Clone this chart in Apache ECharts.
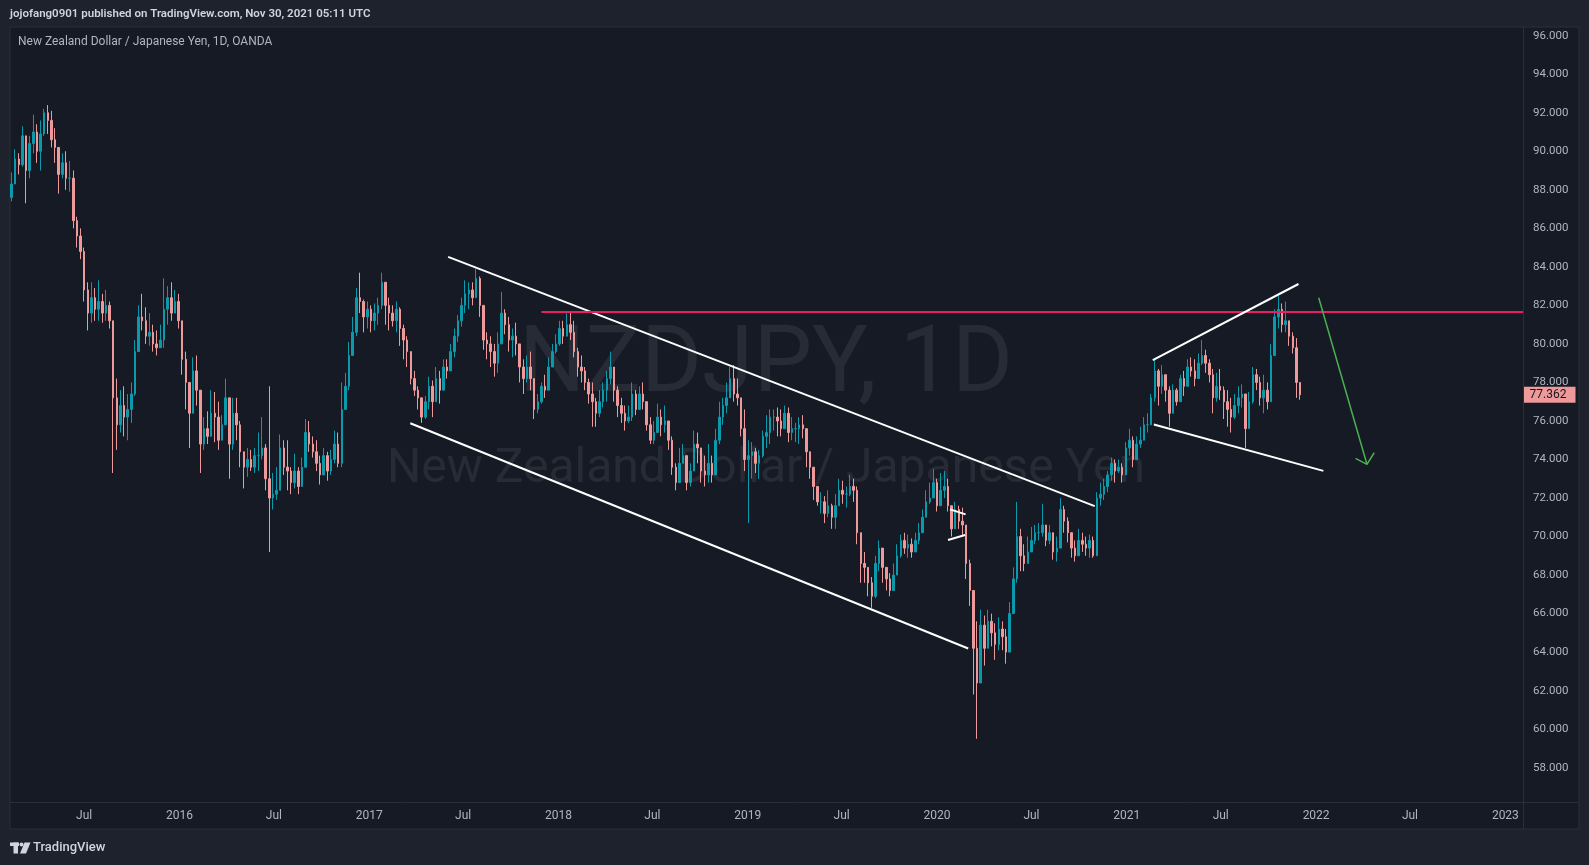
<!DOCTYPE html>
<html>
<head>
<meta charset="utf-8">
<script src="https://cdn.jsdelivr.net/npm/echarts@6/dist/echarts.min.js"></script>
<style>
html,body{margin:0;padding:0;background:#1e222d;}
#chart{width:1589px;height:865px;}
</style>
</head>
<body>
<div id="chart"></div>
<script>
// ---------- DATA (weekly candles: [close, high, low]) ----------
const firstMondays = ['2015-02-09','2016-01-04','2017-01-02','2018-01-01','2019-01-07','2020-01-06','2021-01-04'];
const firstOpen = 87.6;

const w2015 = [
  [88.3,88.9,87.4],[89.6,90.1,88.4],[89.3,89.9,88.8],
  [90.8,91.3,89.2],[89.0,90.8,87.3],[90.4,90.8,88.6],[91.0,91.9,89.9],[90.0,91.4,89.4],
  [90.9,91.6,89.0],[92.0,92.2,90.8],[91.6,92.4,90.9],[90.6,92.1,90.2],
  [90.2,91.2,89.4],[88.8,90.2,87.8],[89.4,89.9,88.6],[88.6,90.0,88.0],
  [88.6,89.5,87.9],[86.4,89.0,86.0],[85.6,86.6,85.0],[84.8,86.0,84.4],[82.8,85.0,82.2],
  [81.6,83.2,80.7],[82.4,83.2,81.1],[81.8,82.9,81.2],[82.2,83.3,81.2],
  [81.6,82.6,81.1],[82.0,82.8,81.2],[81.2,82.2,80.8],[77.2,81.0,73.3],[75.8,78.2,74.5],
  [76.8,77.6,75.4],[76.2,77.8,75.2],[76.6,77.4,75.0],[77.4,78.0,75.9],
  [79.6,80.2,77.3],[81.4,82.0,79.8],[81.2,82.6,80.7],[80.4,81.9,80.0],
  [80.6,81.6,79.9],[80.0,81.0,79.6],[79.8,80.7,79.4],[80.2,81.0,79.8],[81.8,83.4,79.8],
  [82.4,83.0,81.0],[81.6,83.2,81.2],[82.2,82.8,81.7],[81.2,82.6,80.8]
];
const w2016 = [
  [79.2,81.0,78.4],[78.0,79.6,76.6],[76.4,77.6,74.6],[78.6,79.3,76.6],
  [77.6,79.4,76.8],[74.8,77.2,73.3],[75.6,76.2,74.5],[75.2,76.5,74.8],[76.4,77.6,75.4],
  [76.2,77.5,74.9],[75.0,77.0,74.5],[75.8,76.3,75.0],[77.2,78.2,75.8],
  [74.8,76.2,73.0],[76.4,77.2,74.5],[75.8,77.2,75.0],[74.4,76.0,73.6],
  [73.6,74.2,72.5],[74.0,74.6,73.1],[73.6,74.5,73.4],[74.2,74.6,73.3],[74.2,75.4,73.4],
  [74.6,76.2,74.0],[73.0,74.8,72.4],[72.0,77.8,69.2],[72.2,73.3,71.4],
  [72.4,73.6,71.9],[74.6,75.3,72.4],[73.6,75.0,73.2],[73.4,75.0,72.4],
  [72.8,73.6,72.2],[73.4,74.3,72.5],[72.6,73.6,72.2],[73.6,74.1,72.7],[75.4,76.1,73.6],
  [74.8,76.0,74.4],[74.4,75.2,74.1],[73.8,75.0,73.4],[73.2,74.2,72.7],
  [74.2,74.6,73.3],[73.4,74.4,72.9],[74.0,74.5,73.2],[74.8,75.5,73.8],[73.8,75.4,73.6],
  [76.6,78.0,73.6],[77.8,78.5,76.6],[79.4,80.1,77.6],[80.6,81.4,79.4],
  [82.4,82.9,80.4],[82.2,83.7,81.6],[81.4,82.3,80.6],[81.8,82.2,80.8]
];
const w2017 = [
  [81.2,82.0,80.6],[81.6,82.1,80.7],[82.0,82.4,81.0],[83.2,83.7,81.8],[82.0,83.0,81.0],
  [81.6,82.4,80.7],[81.2,82.0,80.9],[81.8,82.2,80.6],[80.8,81.9,79.9],
  [80.2,81.0,79.2],[79.6,80.4,78.8],[78.2,79.2,77.9],[77.6,78.6,77.3],
  [77.2,77.8,76.6],[76.2,77.1,75.9],[77.0,77.3,76.1],[77.8,78.3,76.6],
  [77.0,78.1,76.2],[78.2,78.8,77.2],[77.6,78.6,76.9],[78.8,79.2,77.8],[78.6,79.2,78.2],
  [79.6,80.0,78.6],[80.4,80.8,79.3],[81.2,81.5,80.1],[82.0,82.4,80.9],
  [82.6,83.3,81.6],[82.8,83.2,81.8],[82.4,83.2,82.0],[83.4,83.9,82.4],[82.0,83.5,81.4],
  [80.2,81.8,79.7],[80.0,80.6,79.2],[79.6,80.4,78.8],[79.0,80.0,78.3],
  [80.0,80.6,78.5],[81.6,82.7,80.0],[81.0,81.8,80.5],[80.2,81.4,79.6],
  [80.4,80.8,79.3],[80.0,81.1,79.4],[78.8,80.0,78.0],[78.2,79.2,77.4],[78.8,79.4,78.0],
  [78.2,79.6,77.6],[76.6,77.6,76.1],[77.0,77.4,76.4],[77.8,78.0,76.9],
  [77.6,78.4,77.2],[78.8,79.3,77.8],[79.6,80.0,78.8],[80.0,80.5,79.5]
];
const w2018 = [
  [80.8,81.2,79.9],[80.4,81.2,80.0],[81.0,81.6,80.4],[80.6,81.6,80.2],[79.6,81.2,79.3],
  [78.8,79.8,78.3],[78.6,79.4,78.0],[78.0,78.8,77.6],[77.4,78.2,76.9],
  [77.0,78.0,75.7],[76.4,77.2,75.7],[77.0,77.6,76.2],[77.6,78.0,76.7],
  [78.2,78.6,77.0],[78.8,79.6,77.9],[77.6,78.6,77.0],[76.8,77.8,76.2],[76.4,77.2,75.9],
  [76.0,76.8,75.5],[76.2,76.8,75.9],[77.4,78.0,76.0],[76.6,77.6,76.3],
  [77.4,77.8,76.6],[77.0,78.0,76.6],[75.8,77.0,75.5],[75.0,76.2,74.8],
  [75.4,76.0,74.8],[76.2,76.9,75.5],[75.8,76.6,75.2],[76.0,76.8,75.4],[75.0,75.9,74.5],
  [73.6,75.2,73.2],[72.8,73.8,72.4],[73.8,74.6,73.1],[74.2,74.8,73.8],
  [72.8,74.0,72.4],[73.4,73.8,72.6],[74.8,75.5,73.8],[74.6,75.4,73.8],
  [73.4,74.6,72.8],[73.2,74.2,72.6],[73.8,74.8,72.8],[73.2,74.2,72.8],[75.0,75.6,73.4],
  [76.2,77.0,74.8],[76.8,77.2,75.8],[77.2,78.0,76.4],[78.2,78.8,77.2],
  [77.4,78.9,77.0],[77.2,78.2,76.8],[75.6,77.2,75.2],[74.0,76.6,73.4],[74.2,75.0,70.7]
];
const w2019 = [
  [74.4,74.9,73.0],[73.8,74.6,73.3],[74.2,74.5,73.0],[75.2,75.5,74.1],
  [75.4,76.3,74.6],[76.2,76.6,74.8],[76.2,76.6,75.5],[76.0,76.7,75.2],
  [75.6,76.6,75.2],[76.4,76.8,75.7],[75.4,76.7,74.9],[75.6,76.2,75.0],
  [75.6,75.9,74.9],[75.8,76.2,74.8],[75.6,76.3,75.1],[74.4,75.4,73.6],[73.6,74.3,73.0],
  [72.6,73.4,71.9],[71.8,72.6,71.6],[71.8,72.3,71.2],[71.2,72.1,70.7],
  [71.6,72.4,71.0],[71.0,71.7,70.4],[71.6,72.2,70.4],[72.4,73.0,71.6],
  [72.2,72.9,71.7],[72.2,72.6,71.5],[72.6,73.2,72.1],[72.4,73.0,71.8],[70.2,72.6,69.6],
  [68.6,70.0,67.6],[68.4,69.2,67.6],[67.6,68.4,66.9],[66.9,67.9,66.3],
  [68.6,69.0,66.8],[69.4,69.8,68.2],[68.4,69.3,67.6],[67.8,68.4,67.2],[67.2,68.1,66.9],
  [68.0,68.6,67.4],[69.0,69.6,68.2],[69.8,70.1,68.9],[69.4,70.2,69.1],
  [69.6,70.1,68.9],[69.2,69.9,68.9],[69.8,70.2,69.2],[70.2,70.7,69.6],
  [71.0,71.4,70.2],[71.8,72.4,71.2],[72.0,72.8,71.7],[72.8,73.5,72.2],[71.6,73.0,71.3]
];
const w2020 = [
  [72.4,73.3,71.7],[72.6,73.4,72.0],[71.6,73.0,71.3],[70.4,71.6,70.0],
  [71.4,71.8,70.6],[70.8,71.6,70.4],[70.6,71.5,70.0],[68.6,70.4,67.8],
  [67.2,68.8,66.4],[64.2,67.2,61.8],[62.4,65.6,59.5],[65.4,66.2,63.2],[64.2,65.9,63.3],
  [65.6,66.2,64.4],[65.0,66.0,64.3],[64.4,65.5,63.6],[65.2,65.8,64.1],
  [64.8,65.6,64.1],[64.0,65.2,63.4],[66.0,66.6,64.5],[67.8,68.4,66.5],
  [70.0,71.8,67.6],[69.0,70.4,68.2],[68.6,69.6,68.2],[69.2,70.0,68.6],[69.8,70.5,69.2],
  [70.2,70.6,69.6],[70.2,70.7,69.8],[70.6,71.7,70.0],[69.8,70.6,69.5],
  [70.2,70.6,69.6],[69.2,70.0,68.8],[69.4,70.0,68.7],[71.4,72.0,69.6],[70.8,71.6,70.2],
  [70.2,71.0,69.7],[69.4,70.2,68.9],[69.0,69.8,68.7],[69.8,70.4,69.4],
  [69.6,70.2,69.2],[69.4,70.0,69.0],[69.8,70.1,68.9],[69.0,70.0,68.9],
  [72.0,72.3,69.6],[72.2,72.8,71.6],[72.6,73.0,71.9],[73.2,73.4,72.3],[73.8,74.1,72.9],
  [73.4,74.0,72.8],[73.6,74.0,73.3],[73.2,73.8,72.8],[74.6,74.9,73.2]
];
const w2021 = [
  [75.0,75.6,74.2],[74.0,75.2,73.6],[74.8,75.2,74.2],[75.0,75.7,74.6],
  [75.8,76.2,75.0],[75.8,76.4,75.4],[77.2,77.4,76.0],[78.6,79.2,77.0],
  [77.8,78.7,76.8],[78.4,78.9,77.4],[77.6,78.4,77.0],[76.4,77.8,75.7],[77.6,77.9,76.8],
  [77.0,77.7,76.8],[78.2,78.4,77.4],[77.8,78.6,77.3],[78.8,79.2,78.1],
  [78.6,79.3,78.3],[78.2,79.2,77.8],[79.0,79.5,78.3],[79.4,80.2,78.9],[79.0,79.7,78.5],
  [78.4,79.2,78.0],[77.2,78.7,76.4],[77.8,78.5,77.0],[77.6,78.7,77.1],
  [77.0,77.8,76.1],[76.6,77.6,75.7],[76.2,77.2,75.4],[76.8,77.4,76.1],
  [77.2,77.8,76.4],[77.4,77.9,76.7],[75.6,77.2,74.6],[77.0,77.5,75.6],[78.4,78.8,76.9],
  [78.0,78.7,77.6],[77.2,78.3,76.8],[77.6,78.4,76.4],[77.0,78.0,76.6],
  [79.4,80.0,77.6],[81.4,81.8,79.6],[81.8,82.5,80.8],[81.0,82.1,80.6],
  [81.2,82.2,80.6],[80.4,81.2,79.9],[79.8,80.6,79.5],[78.0,80.3,77.2],[77.362,77.9,77.1]
];
const weeksByYear = [w2015, w2016, w2017, w2018, w2019, w2020, w2021];

// axis ranges / ticks
const timeStart = '2015-02-08';
const timeEnd = '2023-02-04';
const priceMin = 58, priceMax = 96, priceStep = 2;
const monthNames = ['Jan','Feb','Mar','Apr','May','Jun','Jul','Aug','Sep','Oct','Nov','Dec'];

// drawings (date, price)
const channelUpper = [['2017-06-02',84.52],['2020-10-31',71.58]];
const channelLower = [['2017-03-21',75.88],['2020-03-01',64.19]];
const resistance   = [['2017-11-29',81.66],['2023-02-04',81.66]];
const wedgeUpper   = [['2021-02-20',79.16],['2021-11-28',83.11]];
const wedgeLower   = [['2021-02-22',75.82],['2022-01-15',73.41]];
const flagUpper    = [['2020-01-26',71.41],['2020-02-25',71.15]];
const flagLower    = [['2020-01-22',69.82],['2020-02-24',70.08]];
const arrowShaft   = [['2022-01-06',82.40],['2022-04-09',73.75]];
const arrowHead    = [['2022-03-18',74.06],['2022-04-09',73.75],['2022-04-23',74.35]];

// ---------- BUILD ----------
const DAY = 86400000;
function ts(s){ const p = s.split('-').map(Number); return Date.UTC(p[0], p[1]-1, p[2]); }

const candles = [];
let prevClose = firstOpen;
weeksByYear.forEach(function(weeks, yi){
  const base = ts(firstMondays[yi]);
  weeks.forEach(function(w, i){
    const c = w[0], o = prevClose;
    candles.push([base + (7*i + 2)*DAY, o, c, Math.min(w[2], o, c), Math.max(w[1], o, c)]);
    prevClose = c;
  });
});
const lastClose = candles[candles.length-1][2];

function pts(arr){ return arr.map(function(p){ return [ts(p[0]), p[1]]; }); }
function drawLine(name, arr, color, width){
  return { name: name, type:'line', data: pts(arr), symbol:'none', silent:true, z:5,
           lineStyle:{ color: color, width: width }, animation:false };
}

const FONT = 'Roboto, "Open Sans", sans-serif';
const chart = echarts.init(document.getElementById('chart'), null, {renderer:'canvas'});

const graphics = [
  { type:'rect', z:0, silent:true, shape:{ x:10, y:27, width:1569, height:802 }, style:{ fill:'#161a25', stroke:'#2a2e39', lineWidth:1 } },
  { type:'text', z:1, silent:true, x:766, y:368, style:{ text:'NZDJPY, 1D', align:'center', verticalAlign:'middle', fill:'rgba(255,255,255,0.075)', font:'93px ' + FONT } },
  { type:'text', z:1, silent:true, x:766, y:470, style:{ text:'New Zealand Dollar / Japanese Yen', align:'center', verticalAlign:'middle', fill:'rgba(255,255,255,0.075)', font:'48px ' + FONT } },
  { type:'line', z:50, silent:true, shape:{ x1:1523.5, y1:27, x2:1523.5, y2:829 }, style:{ stroke:'#2a2e39', lineWidth:1 } },
  { type:'line', z:50, silent:true, shape:{ x1:10, y1:802.5, x2:1579, y2:802.5 }, style:{ stroke:'#2a2e39', lineWidth:1 } },
  { type:'text', z:50, silent:true, x:10, y:14, style:{ text:'jojofang0901 published on TradingView.com, Nov 30, 2021 05:11 UTC', verticalAlign:'middle', fill:'#d1d4dc', font:'600 11.5px ' + FONT } },
  { type:'text', z:50, silent:true, x:18, y:42, style:{ text:'New Zealand Dollar / Japanese Yen, 1D, OANDA', verticalAlign:'middle', fill:'#b2b5be', font:'12px ' + FONT } },
  { type:'rect', z:50, silent:true, shape:{ x:10, y:842.5, width:9, height:3.5 }, style:{ fill:'#d1d4dc' } },
  { type:'rect', z:50, silent:true, shape:{ x:13.5, y:842.5, width:4.5, height:11 }, style:{ fill:'#d1d4dc' } },
  { type:'circle', z:50, silent:true, shape:{ cx:21.5, cy:844.5, r:2 }, style:{ fill:'#d1d4dc' } },
  { type:'polygon', z:50, silent:true, shape:{ points:[[24.5,842.5],[30.5,842.5],[26,853.5],[20,853.5]] }, style:{ fill:'#d1d4dc' } },
  { type:'text', z:50, silent:true, x:33, y:848, style:{ text:'TradingView', verticalAlign:'middle', fill:'#d1d4dc', font:'500 13px ' + FONT } }
];

const option = {
  backgroundColor: '#1e222d',
  useUTC: true,
  animation: false,
  grid: { left: 10, right: 66, top: 35.7, bottom: 97.3, containLabel: false },
  xAxis: {
    type: 'time', min: ts(timeStart), max: ts(timeEnd),
    offset: 34.3, splitNumber: 16, minInterval: 180*DAY, maxInterval: 185*DAY,
    axisLine: { show: false }, axisTick: { show: false }, splitLine: { show: false },
    axisLabel: {
      color: '#b2b5be', fontSize: 12, fontFamily: FONT, margin: 8,
      formatter: function(v){ const d = new Date(v); return d.getUTCMonth() === 0 ? String(d.getUTCFullYear()) : monthNames[d.getUTCMonth()]; }
    }
  },
  yAxis: {
    type: 'value', position: 'right', min: priceMin, max: priceMax, interval: priceStep,
    axisLine: { show: false }, axisTick: { show: false }, splitLine: { show: false },
    axisLabel: { color: '#b2b5be', fontSize: 11.5, fontFamily: FONT, margin: 10,
      formatter: function(v){ return v.toFixed(3); } }
  },
  graphic: graphics,
  series: [
    {
      name:'NZDJPY', type:'candlestick', data: candles, encode:{ x:0, y:[1,2,3,4] },
      barWidth: 2, z:2, silent:true,
      itemStyle:{ color:'#0b9aab', color0:'#ef9a9a', borderColor:'#0b9aab', borderColor0:'#ef9a9a', borderWidth:1 }
    },
    drawLine('channelUpper', channelUpper, '#ffffff', 2),
    drawLine('channelLower', channelLower, '#ffffff', 2),
    drawLine('resistance', resistance, '#e91e63', 2),
    drawLine('wedgeUpper', wedgeUpper, '#ffffff', 2),
    drawLine('wedgeLower', wedgeLower, '#ffffff', 2),
    drawLine('flagUpper', flagUpper, '#ffffff', 2),
    drawLine('flagLower', flagLower, '#ffffff', 2),
    drawLine('arrowShaft', arrowShaft, '#4caf50', 1.5),
    drawLine('arrowHead', arrowHead, '#4caf50', 1.5)
  ]
};
chart.setOption(option);

// last-price tag on the price scale, placed through the chart's own y scale
const tagY = chart.convertToPixel({ yAxisIndex: 0 }, lastClose);
graphics.push({
  type:'group', z:60, silent:true, x:1523.5, y:tagY,
  children:[
    { type:'rect', shape:{ x:0, y:-8, width:52, height:16 }, style:{ fill:'#ef9a9a' } },
    { type:'text', x:6, y:0.5, style:{ text: lastClose.toFixed(3), verticalAlign:'middle', fill:'#131722', font:'12px ' + FONT } }
  ]
});
option.graphic = graphics;
chart.setOption(option, true);
</script>
</body>
</html>
